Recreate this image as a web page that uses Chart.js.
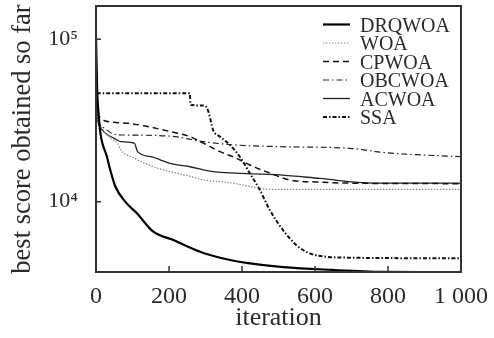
<!DOCTYPE html>
<html>
<head>
<meta charset="utf-8">
<script src="https://cdn.jsdelivr.net/npm/chart.js@4.4.1/dist/chart.umd.min.js"></script>
<style>
  html, body { margin: 0; padding: 0; background: #fff; }
</style>
</head>
<body>
<canvas id="grafico" width="494" height="338"></canvas>
<script>
// valores (iteração, melhor valor)
const drqwoaIter = [0, 3, 8, 12, 30, 39, 53, 80, 112, 157, 212, 285, 358, 417, 513, 648, 785, 1000];
const drqwoaVal  = [105000, 50000, 33000, 26400, 18900, 15700, 12400, 10000, 8480, 6530, 5810, 4920, 4420, 4180, 3950, 3800, 3700, 3680];

const woaIter = [0, 3, 10, 25, 45, 59, 68, 105, 168, 205, 258, 294, 335, 376, 422, 485, 1000];
const woaVal  = [90000, 36000, 30000, 26500, 24000, 22900, 20800, 18500, 16100, 15300, 14300, 13600, 13300, 13000, 12400, 11900, 11900];

const cpwoaIter = [0, 3, 8, 23, 86, 141, 203, 258, 294, 340, 385, 422, 476, 531, 604, 695, 1000];
const cpwoaVal  = [95000, 36000, 33500, 31500, 30400, 29000, 27000, 25100, 22900, 20300, 18500, 16800, 15000, 13600, 13200, 13000, 12900];

const obcwoaIter = [0, 3, 10, 23, 50, 86, 203, 294, 385, 504, 695, 795, 1000];
const obcwoaVal  = [100000, 38000, 30000, 28300, 26000, 25700, 25300, 23400, 22300, 21800, 21300, 20000, 18900];

const acwoaIter = [0, 3, 10, 25, 50, 68, 105, 114, 150, 212, 258, 294, 321, 504, 613, 758, 1000];
const acwoaVal  = [100000, 36000, 29000, 26500, 24500, 23400, 22900, 20300, 18900, 17000, 16400, 15700, 15300, 14600, 13900, 13000, 13000];

const ssaIter = [0, 3, 257, 259, 298, 308, 321, 340, 367, 394, 421, 449, 476, 512, 549, 586, 631, 695, 1000];
const ssaVal  = [70000, 46500, 46500, 39500, 39000, 35800, 27600, 25100, 22300, 18900, 15000, 11800, 8900, 6700, 5400, 4800, 4580, 4520, 4480];

const xTicks = [0, 200, 400, 600, 800, 1000];
const yTicks = [10000, 100000];

const fonte = '"Times New Roman", "Liberation Serif", Times, serif';

function pontos(iter, val) {
  return iter.map((it, i) => ({ x: it, y: val[i] }));
}

// moldura, marcas internas e legenda
const moldura = {
  id: 'moldura',
  afterDatasetsDraw(chart) {
    const { ctx, chartArea: a, scales: { x, y } } = chart;
    ctx.save();
    ctx.strokeStyle = '#333';
    ctx.lineWidth = 2;
    ctx.setLineDash([]);
    ctx.strokeRect(a.left, a.top, a.right - a.left, a.bottom - a.top);

    ctx.lineWidth = 1.5;
    ctx.beginPath();
    yTicks.forEach(v => {
      const py = y.getPixelForValue(v);
      ctx.moveTo(a.left, py);
      ctx.lineTo(a.left + 5, py);
    });
    xTicks.slice(1, -1).forEach(v => {
      const px = x.getPixelForValue(v);
      ctx.moveTo(px, a.bottom);
      ctx.lineTo(px, a.bottom - 6);
    });
    ctx.stroke();

    ctx.font = '20px ' + fonte;
    ctx.textBaseline = 'middle';
    ctx.textAlign = 'left';
    chart.data.datasets.forEach((ds, i) => {
      const ly = a.top + 18.5 + i * 18.5;
      ctx.beginPath();
      ctx.strokeStyle = ds.borderColor;
      ctx.lineWidth = ds.borderWidth;
      ctx.setLineDash(ds.borderDash || []);
      ctx.moveTo(a.right - 138, ly);
      ctx.lineTo(a.right - 111, ly);
      ctx.stroke();
      ctx.fillStyle = '#2a2a2a';
      ctx.fillText(ds.label, a.right - 101, ly + 2);
    });
    ctx.restore();
  }
};

const ctx = document.getElementById('grafico').getContext('2d');

const grafico = new Chart(ctx, {
  type: 'line',
  data: {
    datasets: [
      { label: 'DRQWOA', data: pontos(drqwoaIter, drqwoaVal), borderColor: '#000', borderWidth: 2.2, borderDash: [] },
      { label: 'WOA', data: pontos(woaIter, woaVal), borderColor: '#888', borderWidth: 1.2, borderDash: [1.5, 1.5] },
      { label: 'CPWOA', data: pontos(cpwoaIter, cpwoaVal), borderColor: '#111', borderWidth: 1.5, borderDash: [6, 4] },
      { label: 'OBCWOA', data: pontos(obcwoaIter, obcwoaVal), borderColor: '#222', borderWidth: 1.2, borderDash: [6, 3, 1.5, 3] },
      { label: 'ACWOA', data: pontos(acwoaIter, acwoaVal), borderColor: '#222', borderWidth: 1.3, borderDash: [] },
      { label: 'SSA', data: pontos(ssaIter, ssaVal), borderColor: '#111', borderWidth: 2, borderDash: [4, 2, 1.5, 2] }
    ]
  },
  options: {
    responsive: false,
    animation: false,
    layout: { padding: { top: 6, right: 33, left: 0, bottom: 0 } },
    elements: { point: { radius: 0 }, line: { tension: 0, fill: false, cubicInterpolationMode: 'monotone' } },
    plugins: { legend: { display: false }, tooltip: { enabled: false } },
    scales: {
      x: {
        type: 'linear',
        min: 0,
        max: 1000,
        afterBuildTicks: s => { s.ticks = xTicks.map(v => ({ value: v })); },
        afterFit: s => { s.height = 66; s.paddingLeft = 0; s.paddingRight = 0; },
        grid: { display: false, drawTicks: false },
        border: { display: false },
        ticks: {
          padding: 10,
          color: '#2a2a2a',
          font: { family: fonte, size: 24 },
          maxRotation: 0,
          callback: v => v === 1000 ? '1 000' : String(v)
        },
        title: {
          display: true,
          text: 'iteration',
          color: '#2a2a2a',
          font: { family: fonte, size: 26 },
          padding: { top: 0, bottom: 4 }
        }
      },
      y: {
        type: 'logarithmic',
        min: 3690,
        max: 160000,
        afterBuildTicks: s => { s.ticks = yTicks.map(v => ({ value: v })); },
        afterFit: s => { s.width = 96; s.paddingTop = 0; s.paddingBottom = 0; },
        grid: { display: false, drawTicks: false },
        border: { display: false },
        ticks: {
          padding: 18,
          color: '#2a2a2a',
          font: { family: fonte, size: 22 },
          callback: v => v === 10000 ? '10⁴' : '10⁵'
        },
        title: {
          display: true,
          text: 'best score obtained so far',
          color: '#2a2a2a',
          font: { family: fonte, size: 26.5 },
          padding: { top: 7, bottom: 0 }
        }
      }
    }
  },
  plugins: [moldura]
});
</script>
</body>
</html>
